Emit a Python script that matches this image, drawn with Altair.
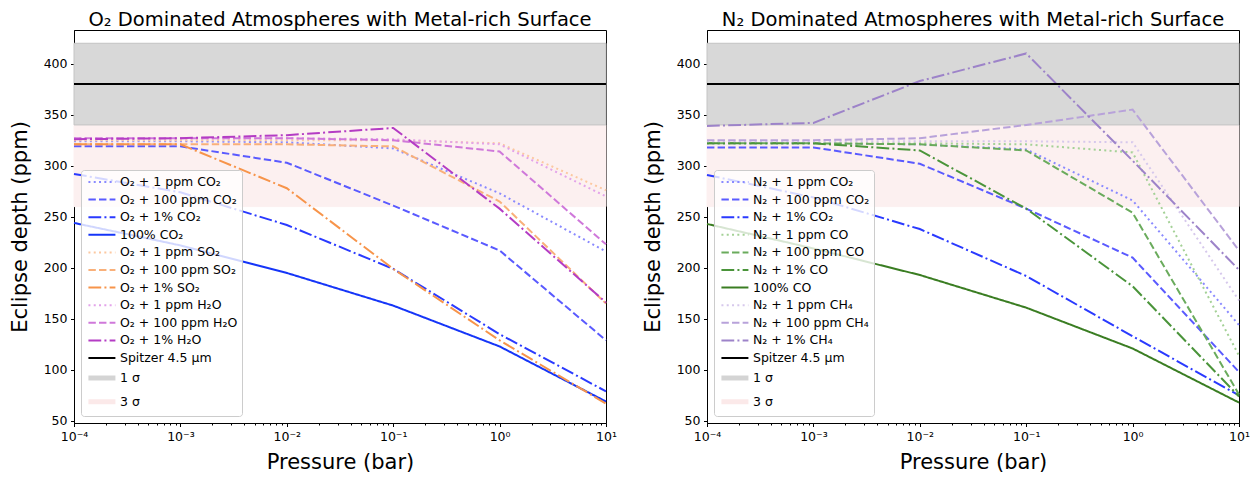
import altair as alt
import pandas as pd

# ---------------- data ----------------
PRESSURE = [1e-4, 1e-3, 1e-2, 1e-1, 1.0, 10.0]
MINOR = [k * 10.0 ** e for e in range(-4, 1) for k in range(2, 10)]
SPITZER = 380
SIGMA1 = [340, 420]
SIGMA3 = [260, 340]
Y_TICKS = [50, 100, 150, 200, 250, 300, 350, 400]
Y_DOMAIN = [48, 433]

O2_LABELS = ["O₂ + 1 ppm CO₂", "O₂ + 100 ppm CO₂", "O₂ + 1% CO₂", "100% CO₂",
             "O₂ + 1 ppm SO₂", "O₂ + 100 ppm SO₂", "O₂ + 1% SO₂",
             "O₂ + 1 ppm H₂O", "O₂ + 100 ppm H₂O", "O₂ + 1% H₂O"]
o2_1ppm_co2 = [324, 324, 323, 317, 273, 216]
o2_100ppm_co2 = [319, 319, 303, 261, 217, 129]
o2_1pct_co2 = [292, 274, 242, 199, 135, 79]
pure_co2 = [244, 222, 195, 163, 123, 69]
o2_1ppm_so2 = [325, 325, 325, 325, 322, 276]
o2_100ppm_so2 = [321, 321, 321, 319, 265, 165]
o2_1pct_so2 = [321, 321, 278, 199, 129, 67]
o2_1ppm_h2o = [327, 327, 327, 326, 321, 270]
o2_100ppm_h2o = [327, 327, 327, 325, 314, 223]
o2_1pct_h2o = [326, 327, 330, 337, 258, 166]
O2_VALUES = [o2_1ppm_co2, o2_100ppm_co2, o2_1pct_co2, pure_co2,
             o2_1ppm_so2, o2_100ppm_so2, o2_1pct_so2,
             o2_1ppm_h2o, o2_100ppm_h2o, o2_1pct_h2o]

N2_LABELS = ["N₂ + 1 ppm CO₂", "N₂ + 100 ppm CO₂", "N₂ + 1% CO₂",
             "N₂ + 1 ppm CO", "N₂ + 100 ppm CO", "N₂ + 1% CO", "100% CO",
             "N₂ + 1 ppm CH₄", "N₂ + 100 ppm CH₄", "N₂ + 1% CH₄"]
n2_1ppm_co2 = [322, 322, 321, 316, 266, 144]
n2_100ppm_co2 = [318, 318, 302, 258, 210, 98]
n2_1pct_co2 = [291, 269, 238, 192, 133, 75]
n2_1ppm_co = [322, 322, 322, 321, 313, 114]
n2_100ppm_co = [322, 322, 321, 315, 254, 76]
n2_1pct_co = [322, 322, 315, 258, 182, 74]
pure_co = [243, 219, 193, 161, 121, 68]
n2_1ppm_ch4 = [324, 324, 324, 324, 323, 168]
n2_100ppm_ch4 = [325, 325, 327, 340, 355, 217]
n2_1pct_ch4 = [339, 342, 383, 410, 305, 198]
N2_VALUES = [n2_1ppm_co2, n2_100ppm_co2, n2_1pct_co2,
             n2_1ppm_co, n2_100ppm_co, n2_1pct_co, pure_co,
             n2_1ppm_ch4, n2_100ppm_ch4, n2_1pct_ch4]

EXTRA_LABELS = ["Spitzer 4.5 μm", "1 σ", "3 σ"]

# ---------------- styles ----------------
DOT = [2, 3.3]
DASH = [7.4, 3.2]
DASHDOT = [12.8, 3.2, 2, 3.2]
SOLID = [1, 0]

O2_COLORS = ["#8a8aff", "#5a5aff", "#2a3aff", "#1535f8",
             "#fcc8a0", "#f9b07a", "#f7944a",
             "#e3a3ea", "#cf78da", "#b43cc4"]
O2_DASHES = [DOT, DASH, DASHDOT, SOLID, DOT, DASH, DASHDOT, DOT, DASH, DASHDOT]

N2_COLORS = ["#8a8aff", "#5a5aff", "#2a3aff",
             "#a4d196", "#6aab5c", "#4a943a", "#3a7d22",
             "#d6c8ec", "#b8a2da", "#9d83c9"]
N2_DASHES = [DOT, DASH, DASHDOT, DOT, DASH, DASHDOT, SOLID, DOT, DASH, DASHDOT]

EXTRA_COLORS = ["#000000", "#d4d4d4", "#fbe9e9"]
EXTRA_DASHES = [SOLID, SOLID, SOLID]

FONT = "DejaVu Sans"
W, H = 532, 393

MAJOR_TEST = "abs(log(datum.value)/LN10 - round(log(datum.value)/LN10)) < 0.001"
X_LABEL_EXPR = ("(" + MAJOR_TEST + ") ? ['10⁻⁴','10⁻³','10⁻²','10⁻¹','10⁰','10¹']"
                "[round(log(datum.value)/LN10)+4] : ''")


def panel(labels, values, colors, dashes, title):
    rows = []
    for lab, vals in zip(labels, values):
        for p, v in zip(PRESSURE, vals):
            rows.append({"p": p, "d": v, "s": lab})
    for p in (PRESSURE[0], PRESSURE[-1]):
        rows.append({"p": p, "d": SPITZER, "s": EXTRA_LABELS[0]})
    df = pd.DataFrame(rows)

    bands = pd.DataFrame({
        "x1": [PRESSURE[0], PRESSURE[0]],
        "x2": [PRESSURE[-1], PRESSURE[-1]],
        "lo": [SIGMA3[0], SIGMA1[0]],
        "hi": [SIGMA3[1], SIGMA1[1]],
        "band": ["3 σ", "1 σ"],
    })

    all_labels = labels + EXTRA_LABELS
    all_colors = colors + EXTRA_COLORS
    all_dashes = dashes + EXTRA_DASHES
    all_widths = [2] * len(labels) + [2, 5, 5]

    xscale = alt.Scale(type="log", domain=[PRESSURE[0], PRESSURE[-1]], nice=False)
    yscale = alt.Scale(domain=Y_DOMAIN, nice=False, zero=False)

    xaxis = alt.Axis(
        title="Pressure (bar)", values=sorted(PRESSURE + MINOR),
        labelExpr=X_LABEL_EXPR, labelFlush=False, labelOverlap=False,
        tickSize={"condition": {"test": MAJOR_TEST, "value": 3.5}, "value": 2},
        grid=False, titlePadding=9,
    )
    yaxis = alt.Axis(title="Eclipse depth (ppm)", values=Y_TICKS, grid=False,
                     tickSize=3.5, titlePadding=13)

    legend = alt.Legend(
        title=None, orient="bottom-left", offset=7,
        symbolType="M-0.9,0H3.1", symbolSize=182,
        labelFont=FONT, labelFontSize=12.5, labelColor="black",
        fillColor="rgba(255,255,255,0.8)", strokeColor="#cccccc",
        cornerRadius=3, padding=4, rowPadding=2.6, labelOffset=16,
        labelLimit=300,
    )

    band_layer = alt.Chart(bands).mark_rect(strokeWidth=1).encode(
        x=alt.X("x1:Q", scale=xscale, axis=xaxis),
        x2="x2:Q",
        y=alt.Y("lo:Q", scale=yscale, axis=yaxis),
        y2="hi:Q",
        fill=alt.Fill("band:N", scale=alt.Scale(domain=["3 σ", "1 σ"],
                                                range=["#fcf0f0", "#d8d8d8"]), legend=None),
        stroke=alt.Stroke("band:N", scale=alt.Scale(domain=["3 σ", "1 σ"],
                                                    range=["#fcf0f0", "#c4c4c4"]), legend=None),
    )

    line_layer = alt.Chart(df).mark_line().encode(
        x=alt.X("p:Q", scale=xscale),
        y=alt.Y("d:Q", scale=yscale),
        color=alt.Color("s:N", scale=alt.Scale(domain=all_labels, range=all_colors), legend=legend),
        strokeDash=alt.StrokeDash("s:N", scale=alt.Scale(domain=all_labels, range=all_dashes), legend=legend),
        strokeWidth=alt.StrokeWidth("s:N", scale=alt.Scale(type="ordinal", domain=all_labels,
                                                           range=all_widths), legend=legend),
    )

    return alt.layer(band_layer, line_layer).resolve_scale(
        fill="independent", stroke="independent"
    ).properties(
        width=W, height=H,
        title=alt.TitleParams(title, fontSize=19.5, font=FONT, fontWeight="normal",
                              anchor="middle", offset=0, color="black"),
    )


left = panel(O2_LABELS, O2_VALUES, O2_COLORS, O2_DASHES,
             "O₂ Dominated Atmospheres with Metal-rich Surface")
right = panel(N2_LABELS, N2_VALUES, N2_COLORS, N2_DASHES,
              "N₂ Dominated Atmospheres with Metal-rich Surface")

chart = alt.hconcat(left, right, spacing=24).resolve_scale(
    color="independent", strokeDash="independent", strokeWidth="independent",
    x="independent", y="independent",
).configure(
    padding={"left": 0, "top": 1, "right": 0, "bottom": 0},
).configure_view(
    stroke="black", strokeWidth=1,
).configure_axis(
    labelFont=FONT, labelFontSize=12.5, labelColor="black",
    titleFont=FONT, titleFontSize=21, titleFontWeight="normal", titleColor="black",
    domainColor="black", tickColor="black", labelPadding=3.5,
)

chart.save("out.html", embed_options={"renderer": "svg", "actions": False})
